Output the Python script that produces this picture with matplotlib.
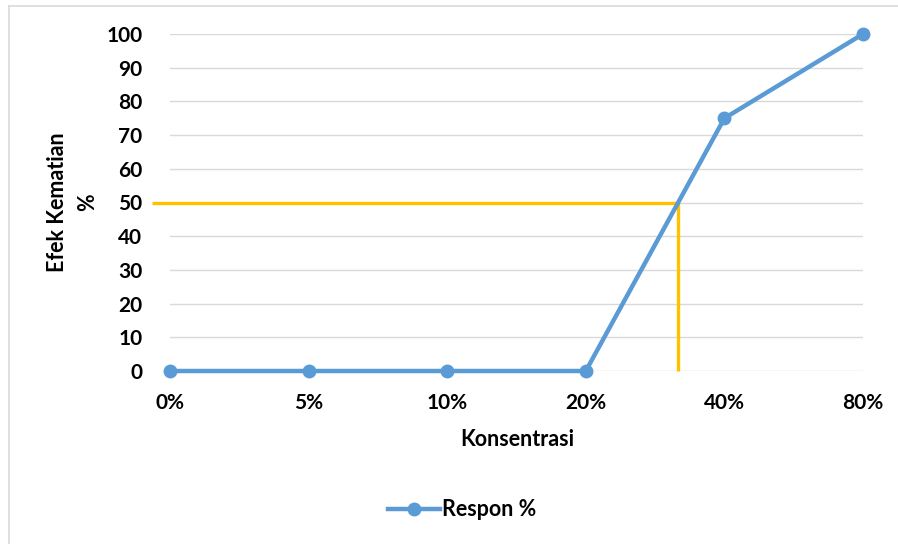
import matplotlib
matplotlib.use("Agg")
import matplotlib.pyplot as plt
from matplotlib.lines import Line2D

# Data
categories = ["0%", "5%", "10%", "20%", "40%", "80%"]
respon = [0, 0, 0, 0, 75, 100]
lc50_response = 50
yticks = [0, 10, 20, 30, 40, 50, 60, 70, 80, 90, 100]

BLUE = "#5B9BD5"
GOLD = "#FFC000"
GRID = "#D9D9D9"

plt.rcParams["font.family"] = ["Lato", "DejaVu Sans"]
plt.rcParams["font.weight"] = "bold"

fig = plt.figure(figsize=(8.98, 5.44), dpi=100)
W, H = 898, 544
ax = fig.add_axes([170 / W, 1 - 371 / H, (863 - 170) / W, (371 - 34) / H])

x = list(range(len(categories)))

# LC50 position, interpolated along the 20% -> 40% segment
i = 3
x50 = x[i] + (lc50_response - respon[i]) / (respon[i + 1] - respon[i])

ax.plot([-0.13, x50], [lc50_response, lc50_response], color=GOLD, lw=2.4,
        clip_on=False, zorder=3, solid_capstyle="butt")
ax.plot([x50, x50], [0, lc50_response], color=GOLD, lw=2.4,
        clip_on=False, zorder=3, solid_capstyle="butt")

ax.plot(x, respon, color=BLUE, lw=3.2, marker="o", markersize=9,
        clip_on=False, zorder=4, label="Respon %")

ax.set_xlim(0, len(categories) - 1)
ax.set_ylim(0, 100)
ax.set_yticks(yticks)
ax.set_yticklabels([str(v) for v in yticks], fontsize=15, fontweight="bold")
ax.set_xticks(x)
ax.set_xticklabels(categories, fontsize=15, fontweight="bold")
ax.tick_params(axis="both", length=0)
ax.tick_params(axis="y", pad=20)
ax.tick_params(axis="x", pad=16)

ax.grid(axis="y", color=GRID, lw=1)
ax.set_axisbelow(True)
for s in ax.spines.values():
    s.set_visible(False)

fig.text(517 / W, 1 - 440 / H, "Konsentrasi", ha="center", va="center",
         fontsize=15.5, fontweight="bold")
fig.text(58 / W, 1 - 202 / H, "Efek Kematian", ha="center", va="center",
         rotation=90, fontsize=15.5, fontweight="bold")
fig.text(88 / W, 1 - 202 / H, "%", ha="center", va="center",
         rotation=90, fontsize=15.5, fontweight="bold")

handle = Line2D([], [], color=BLUE, lw=3.2, marker="o", markersize=9)
fig.legend([handle], ["Respon %"], loc="center", bbox_to_anchor=(462 / W, 1 - 510 / H),
           frameon=False, fontsize=15.5, handlelength=2.4, handletextpad=0.1)

# Chart-area border (left and top edges)
fig.add_artist(Line2D([9 / W, 9 / W], [0, 1 - 6 / H], color=GRID, lw=1.2))
fig.add_artist(Line2D([9 / W, 1], [1 - 6 / H, 1 - 6 / H], color=GRID, lw=1.2))

fig.savefig("out.png", dpi=100)
